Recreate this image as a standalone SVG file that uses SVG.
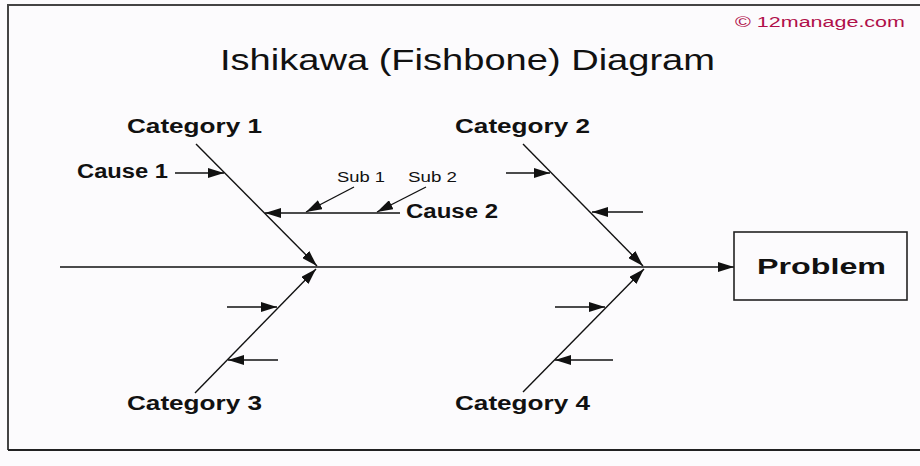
<svg xmlns="http://www.w3.org/2000/svg" width="920" height="466" viewBox="0 0 920 466">
  <style>
    .arr { stroke: #111; stroke-width: 1.4; fill: none; marker-end: url(#head); }
    .lbl { font-family: "Liberation Sans", Arial, sans-serif; font-weight: bold; font-size: 19.5px; fill: #111; }
    .sub { font-family: "Liberation Sans", Arial, sans-serif; font-size: 14px; fill: #111; }
  </style>
  <defs>
    <marker id="head" markerUnits="userSpaceOnUse" markerWidth="16" markerHeight="10" refX="16" refY="5" orient="auto">
      <path d="M0,0 L16,5 L0,10 Z" fill="#111"/>
    </marker>
  </defs>

  <!-- page and frame -->
  <rect x="0" y="0" width="920" height="466" fill="#fcfbfd"/>
  <path d="M8,450 L8,5 L922,5" fill="none" stroke="#444" stroke-width="2"/>
  <path d="M8,450 L922,450" fill="none" stroke="#222" stroke-width="2.2"/>

  <text x="735" y="27" textLength="170" lengthAdjust="spacingAndGlyphs" font-family="Liberation Sans, Arial, sans-serif" font-size="14" fill="#b0104a">© 12manage.com</text>
  <text x="220" y="70" textLength="495" lengthAdjust="spacingAndGlyphs" font-family="Liberation Sans, Arial, sans-serif" font-size="30" fill="#111">Ishikawa (Fishbone) Diagram</text>

  <!-- connectors: spine, category bones, cause arrows -->
  <g id="connectors">
    <line class="arr" x1="60" y1="267" x2="734" y2="267"/>

    <line class="arr" x1="196" y1="144" x2="317" y2="266"/>
    <line class="arr" x1="523" y1="144" x2="643" y2="266"/>
    <line class="arr" x1="195" y1="393" x2="316" y2="269"/>
    <line class="arr" x1="523" y1="392" x2="644" y2="269"/>

    <!-- category 1 causes -->
    <line class="arr" x1="175" y1="173" x2="224" y2="173"/>
    <line class="arr" x1="400" y1="213" x2="265" y2="213"/>
    <line class="arr" x1="354" y1="187" x2="306" y2="212"/>
    <line class="arr" x1="426" y1="187" x2="377" y2="212"/>

    <!-- category 2 causes -->
    <line class="arr" x1="506" y1="173" x2="550" y2="173"/>
    <line class="arr" x1="643" y1="212" x2="592" y2="212"/>

    <!-- category 3 causes -->
    <line class="arr" x1="227" y1="307" x2="277" y2="307"/>
    <line class="arr" x1="278" y1="360" x2="228" y2="360"/>

    <!-- category 4 causes -->
    <line class="arr" x1="555" y1="307" x2="605" y2="307"/>
    <line class="arr" x1="613" y1="360" x2="555" y2="360"/>
  </g>

  <g id="problem">
    <rect x="734" y="232" width="173" height="68" fill="#fcfbfd" stroke="#222" stroke-width="1.6"/>
    <text class="lbl" x="757" y="274" textLength="129" lengthAdjust="spacingAndGlyphs" style="font-size:22px">Problem</text>
  </g>

  <g id="category-1">
    <text class="lbl" x="127" y="133" textLength="135" lengthAdjust="spacingAndGlyphs">Category 1</text>
  </g>
  <g id="category-2">
    <text class="lbl" x="455" y="133" textLength="135" lengthAdjust="spacingAndGlyphs">Category 2</text>
  </g>
  <g id="category-3">
    <text class="lbl" x="127" y="410" textLength="135" lengthAdjust="spacingAndGlyphs">Category 3</text>
  </g>
  <g id="category-4">
    <text class="lbl" x="455" y="410" textLength="135" lengthAdjust="spacingAndGlyphs">Category 4</text>
  </g>

  <g id="cause-1">
    <text class="lbl" x="77" y="178" textLength="91" lengthAdjust="spacingAndGlyphs">Cause 1</text>
  </g>
  <g id="cause-2">
    <text class="lbl" x="406" y="218" textLength="92" lengthAdjust="spacingAndGlyphs">Cause 2</text>
  </g>
  <g id="sub-1">
    <text class="sub" x="337" y="182" textLength="48" lengthAdjust="spacingAndGlyphs">Sub 1</text>
  </g>
  <g id="sub-2">
    <text class="sub" x="408" y="182" textLength="49" lengthAdjust="spacingAndGlyphs">Sub 2</text>
  </g>
</svg>
